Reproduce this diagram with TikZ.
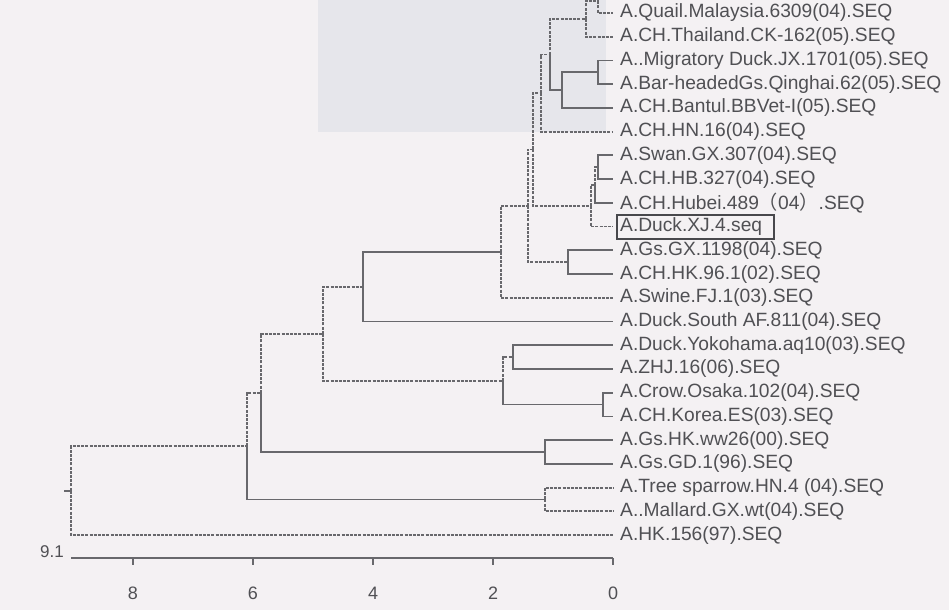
\documentclass[tikz,border=0pt]{standalone}
\usepackage{fontspec}
\setmainfont{Liberation Sans}
\newfontfamily\cjk{Noto Sans CJK SC}
\usetikzlibrary{calc}
\definecolor{linec}{HTML}{68686C}
\definecolor{txtc}{HTML}{505054}
\definecolor{boxc}{HTML}{48484C}
\definecolor{bgc}{HTML}{F4F1F3}
\definecolor{gelc}{HTML}{E6E6EB}
\begin{document}
\begin{tikzpicture}[x=1pt,y=-1pt,
  br/.style={draw=linec, line width=1.8pt},
  brd/.style={br, dash pattern=on 3pt off 1.2pt},
  leaf/.style={anchor=west, inner sep=0pt, text=txtc, font=\fontsize{19.2}{21}\selectfont},
  tick/.style={anchor=center, inner sep=0pt, text=txtc, font=\fontsize{18}{20}\selectfont},
  boxs/.style={draw=boxc, line width=2pt}]
\clip (0,0) rectangle (949,610);
\fill[bgc] (0,0) rectangle (949,610);
\fill[gelc] (318,0) rectangle (606,132);
% leaf ends
\coordinate (lc) at (613,-10.73);
\foreach \i in {0,...,22} { \coordinate (l\i) at (613,{13+23.73*\i}); }
% leaf labels
\node[leaf] (t0) at ($(l0)+(7,0)$) {A.Quail.Malaysia.6309(04).SEQ};
\node[leaf] (t1) at ($(l1)+(7,0)$) {A.CH.Thailand.CK-162(05).SEQ};
\node[leaf] (t2) at ($(l2)+(7,0)$) {A..Migratory Duck.JX.1701(05).SEQ};
\node[leaf] (t3) at ($(l3)+(7,0)$) {A.Bar-headedGs.Qinghai.62(05).SEQ};
\node[leaf] (t4) at ($(l4)+(7,0)$) {A.CH.Bantul.BBVet-I(05).SEQ};
\node[leaf] (t5) at ($(l5)+(7,0)$) {A.CH.HN.16(04).SEQ};
\node[leaf] (t6) at ($(l6)+(7,0)$) {A.Swan.GX.307(04).SEQ};
\node[leaf] (t7) at ($(l7)+(7,0)$) {A.CH.HB.327(04).SEQ};
\node[leaf] (t8) at ($(l8)+(7,0)$) {A.CH.Hubei.489{\cjk（}04{\cjk）}.SEQ};
\node[leaf] (t9) at ($(l9)+(7,0)$) {A.Duck.XJ.4.seq};
\node[leaf] (t10) at ($(l10)+(7,0)$) {A.Gs.GX.1198(04).SEQ};
\node[leaf] (t11) at ($(l11)+(7,0)$) {A.CH.HK.96.1(02).SEQ};
\node[leaf] (t12) at ($(l12)+(7,0)$) {A.Swine.FJ.1(03).SEQ};
\node[leaf] (t13) at ($(l13)+(7,0)$) {A.Duck.South AF.811(04).SEQ};
\node[leaf] (t14) at ($(l14)+(7,0)$) {A.Duck.Yokohama.aq10(03).SEQ};
\node[leaf] (t15) at ($(l15)+(7,0)$) {A.ZHJ.16(06).SEQ};
\node[leaf] (t16) at ($(l16)+(7,0)$) {A.Crow.Osaka.102(04).SEQ};
\node[leaf] (t17) at ($(l17)+(7,0)$) {A.CH.Korea.ES(03).SEQ};
\node[leaf] (t18) at ($(l18)+(7,0)$) {A.Gs.HK.ww26(00).SEQ};
\node[leaf] (t19) at ($(l19)+(7,0)$) {A.Gs.GD.1(96).SEQ};
\node[leaf] (t20) at ($(l20)+(7,0)$) {A.Tree sparrow.HN.4 (04).SEQ};
\node[leaf] (t21) at ($(l21)+(7,0)$) {A..Mallard.GX.wt(04).SEQ};
\node[leaf] (t22) at ($(l22)+(7,0)$) {A.HK.156(97).SEQ};
\draw[boxs] ($(t9.west)+(-3,-12)$) rectangle ($(t9.east)+(12,12)$);
% internal nodes
\coordinate (Q1) at (598,1.14);
\coordinate (Q2) at (586,18.93);
\coordinate (MB) at (598,72.33);
\coordinate (J) at (562,90.12);
\coordinate (I) at (550,54.53);
\coordinate (K) at (541,93.09);
\coordinate (S1) at (598,167.25);
\coordinate (S2) at (595,185.04);
\coordinate (S3) at (591,205.8);
\coordinate (L) at (533,149.45);
\coordinate (GX) at (568,262.17);
\coordinate (F) at (528,205.81);
\coordinate (E) at (501,251.79);
\coordinate (D) at (363,286.64);
\coordinate (YZ) at (513,357.09);
\coordinate (CK) at (603,404.55);
\coordinate (H) at (503,380.82);
\coordinate (C) at (323,333.73);
\coordinate (GG) at (545,452.0);
\coordinate (TM) at (545,499.47);
\coordinate (B) at (261,392.87);
\coordinate (A) at (247,446.17);
\coordinate (R) at (71,490.6);
\coordinate (Rs) at (64,490.6);
% branches
\draw[brd] (Q1) |- (lc);
\draw[brd] (Q1) |- (l0);
\draw[brd] (Q2) |- (Q1);
\draw[brd] (Q2) |- (l1);
\draw[br] (MB) |- (l2);
\draw[br] (MB) |- (l3);
\draw[br] (J) |- (MB);
\draw[br] (J) |- (l4);
\draw[brd] (I) |- (Q2);
\draw[br] (I) |- (J);
\draw[brd] (K) |- (I);
\draw[brd] (K) |- (l5);
\draw[br] (S1) |- (l6);
\draw[br] (S1) |- (l7);
\draw[brd] (S2) |- (S1);
\draw[br] (S2) |- (l8);
\draw[brd] (S3) |- (S2);
\draw[brd] (S3) |- (l9);
\draw[brd] (L) |- (K);
\draw[brd] (L) |- (S3);
\draw[br] (GX) |- (l10);
\draw[br] (GX) |- (l11);
\draw[brd] (F) |- (L);
\draw[brd] (F) |- (GX);
\draw[brd] (E) |- (F);
\draw[brd] (E) |- (l12);
\draw[br] (D) |- (E);
\draw[br] (D) |- (l13);
\draw[br] (YZ) |- (l14);
\draw[br] (YZ) |- (l15);
\draw[br] (CK) |- (l16);
\draw[br] (CK) |- (l17);
\draw[brd] (H) |- (YZ);
\draw[br] (H) |- (CK);
\draw[brd] (C) |- (D);
\draw[brd] (C) |- (H);
\draw[br] (GG) |- (l18);
\draw[br] (GG) |- (l19);
\draw[brd] (TM) |- (l20);
\draw[brd] (TM) |- (l21);
\draw[brd] (B) |- (C);
\draw[br] (B) |- (GG);
\draw[brd] (A) |- (B);
\draw[br] (A) |- (TM);
\draw[brd] (R) |- (A);
\draw[brd] (R) |- (l22);
\draw[br] (Rs) -- (R);
% scale axis
\coordinate (ax0) at (71,558);
\coordinate (ax1) at (613,558);
\draw[br] (ax0) -- (ax1);
\foreach \v/\n in {0/k0,2/k2,4/k4,6/k6,8/k8} {
  \coordinate (\n) at ({613-60*\v},558);
  \draw[br] (\n) -- ++(0,7);
  \node[tick] at ($(\n)+(0,35)$) {\v};
}
\node[anchor=east, inner sep=0pt, text=txtc, font=\fontsize{17}{20}\selectfont] (sc) at (64,552) {9.1};
\end{tikzpicture}
\end{document}
